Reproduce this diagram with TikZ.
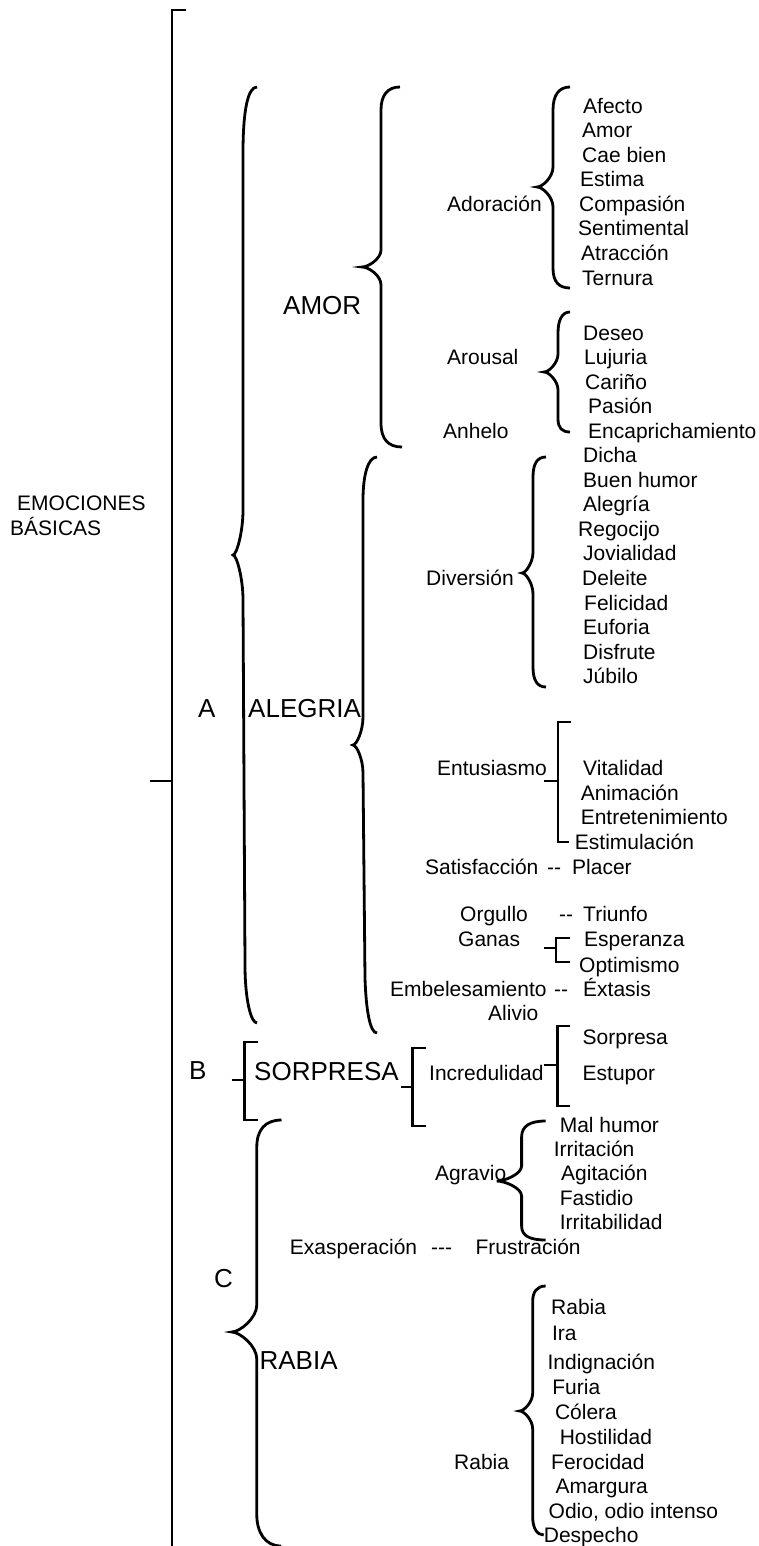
\documentclass[tikz,border=0pt]{standalone}
\usepackage{fontspec}
\setmainfont{Liberation Sans}
\newcommand\hy{\mbox{-}}
\begin{document}
\begin{tikzpicture}[x=1pt,y=-1pt,
  br/.style={line width=2.8pt, line cap=butt, line join=miter},
  sm/.style={anchor=base west, inner sep=0pt, font=\fontsize{21}{25}\selectfont},
  bg/.style={anchor=base west, inner sep=0pt, font=\fontsize{26}{30}\selectfont}]
\useasboundingbox (0,0) rectangle (759,1546);

% ---------- main bracket ----------
\draw[br] (186,10) -- (172,10) -- (172,1546);
\draw[br] (150,781) -- (172,781);
\node[sm] (emo1) at (17,510.5) {EMOCIONES};
\node[sm] (emo2) at (10,535.5) {BÁSICAS};

% ---------- big labels ----------
\node[bg] (labA) at (198,717.3) {A};
\node[bg] (alegria) at (248,717.3) {ALEGRIA};
\node[bg] (amor) at (283,314.3) {AMOR};
\node[bg] (labB) at (189,1079.3) {B};
\node[bg] (sorpresa) at (254,1080.3) {SORPRESA};
\node[bg] (labC) at (214,1287.3) {C};
\node[bg] (rabia) at (259.4,1369.3) {RABIA};

% ---------- braces ----------
% A
\draw[br] (257,87) .. controls (247.9,87) and (243,110) .. (243,153) -- (243,510)
  .. controls (243,532.5) and (236.5,555) .. (233,555)
  .. controls (236.5,555) and (243,577.5) .. (243,600) -- (245,965)
  .. controls (245,1000) and (251,1023) .. (257,1023);
% AMOR
\draw[br] (400,87) .. controls (387.7,87) and (381,95) .. (381,110) -- (381,250)
  .. controls (381,258.5) and (368.7,267) .. (362,267)
  .. controls (368.7,267) and (381,275.5) .. (381,285) -- (381,423)
  .. controls (381,439) and (388,447) .. (402,447);
% Adoracion
\draw[br] (570,87) .. controls (559,87) and (553,95) .. (553,110) -- (553,167)
  .. controls (553,177) and (542.6,187) .. (537,187)
  .. controls (542.6,187) and (553,197) .. (553,207) -- (553,268)
  .. controls (553,282) and (559,288) .. (570,288);
% Arousal
\draw[br] (570,312) .. controls (562,312) and (558,320) .. (558,333) -- (558,354)
  .. controls (558,363) and (548.9,372) .. (544,372)
  .. controls (548.9,372) and (558,381) .. (558,390) -- (558,419)
  .. controls (558,428) and (562,432) .. (570,432);
% ALEGRIA
\draw[br] (377,457) .. controls (368,457) and (363,475) .. (363,500) -- (363,717)
  .. controls (363,731) and (356.5,745) .. (353,745)
  .. controls (356.5,745) and (363,759) .. (363,773) -- (365,978)
  .. controls (366,1010) and (370,1033) .. (377,1033);
% Diversion
\draw[br] (546,457) .. controls (537,457) and (533,464) .. (533,477) -- (533,552)
  .. controls (533,562.5) and (525.8,573) .. (522,573)
  .. controls (525.8,573) and (533,583.5) .. (533,594) -- (533,667)
  .. controls (533,680) and (537,687) .. (546,687);
% Agravio
\draw[br] (545.6,1121) .. controls (530,1121) and (521.6,1126) .. (521.6,1137) -- (521.6,1166)
  .. controls (521.6,1174) and (505,1181) .. (496.8,1181)
  .. controls (505,1181) and (521.6,1188) .. (521.6,1196) -- (521.6,1226)
  .. controls (521.6,1236) and (530,1240) .. (545.6,1240);
% C / RABIA
\draw[br] (281.5,1120) .. controls (265,1120) and (256.8,1130) .. (256.8,1147) -- (256.8,1305)
  .. controls (256.8,1318) and (240,1332) .. (231.7,1332)
  .. controls (240,1332) and (256.8,1346) .. (256.8,1359) -- (256.8,1515)
  .. controls (256.8,1532) and (265,1546) .. (281,1546);
% Rabia
\draw[br] (545.6,1286) .. controls (537,1286) and (532.7,1292) .. (532.7,1301) -- (532.7,1393)
  .. controls (532.7,1402) and (524,1411) .. (519.7,1411)
  .. controls (524,1411) and (532.7,1420) .. (532.7,1429) -- (532.7,1517)
  .. controls (532.7,1528) and (537,1535) .. (543.7,1535);

% ---------- square brackets ----------
\draw[br] (570.5,722) -- (558,722) -- (558,842) -- (569,842);
\draw[br] (544,781) -- (558,781);
\draw[br] (570,938) -- (556,938) -- (556,962) -- (570,962);
\draw[br] (544,948) -- (556,948);
\draw[br] (257.5,1042) -- (244.6,1042) -- (244.6,1120) -- (257.5,1120);
\draw[br] (231.7,1080) -- (244.6,1080);
\draw[br] (425.6,1048) -- (412.6,1048) -- (412.6,1126) -- (425.6,1126);
\draw[br] (400.5,1087) -- (412.6,1087);
\draw[br] (569.6,1026) -- (557.4,1026) -- (557.4,1106) -- (569.6,1106);
\draw[br] (543.7,1065) -- (557.4,1065);

% ---------- mid labels ----------
\node[sm] (adoracion) at (447,211.5) {Adoración};
\node[sm] (arousal) at (447,364.5) {Arousal};
\node[sm] (anhelo) at (443,438.5) {Anhelo};
\node[sm] (diversion) at (426,585.5) {Diversión};
\node[sm] (entusiasmo) at (437,775.5) {Entusiasmo};
\node[sm] (satisf) at (425,874.5) {Satisfacción};
\node[sm] (d1) at (547,874.5) {\hy\hy};
\node[sm] (placer) at (572,874.5) {Placer};
\node[sm] (orgullo) at (460,921.5) {Orgullo};
\node[sm] (d2) at (559,921.5) {\hy\hy};
\node[sm] (triunfo) at (583,921.5) {Triunfo};
\node[sm] (ganas) at (458,946.5) {Ganas};
\node[sm] (esperanza) at (584,946.5) {Esperanza};
\node[sm] (optimismo) at (579,972.5) {Optimismo};
\node[sm] (embel) at (390,996.5) {Embelesamiento};
\node[sm] (d3) at (554,996.5) {\hy\hy};
\node[sm] (extasis) at (583,996.5) {Éxtasis};
\node[sm] (alivio) at (488,1020.5) {Alivio};
\node[sm] (incred) at (429,1080.5) {Incredulidad};
\node[sm] (sorp2) at (582.5,1044.5) {Sorpresa};
\node[sm] (estupor) at (582.5,1080.5) {Estupor};
\node[sm] (agravio) at (434.8,1180.5) {Agravio};
\node[sm] (exasp) at (289.7,1254.5) {Exasperación};
\node[sm] (d4) at (431,1254.5) {\hy\hy\hy};
\node[sm] (frustr) at (475.4,1254.5) {Frustración};
\node[sm] (rabia2) at (454,1469.5) {Rabia};

% ---------- leaf lists ----------
\foreach \x/\y/\t [count=\i] in {583/106/Afecto, 582/130/Amor, 582/155/Cae bien,
  580/179/Estima, 579/204/Compasión, 578/228/Sentimental, 581/253/Atracción, 582/278/Ternura}
  \node[sm] (ado\i) at (\x,\y+7.5) {\t};
\foreach \x/\y/\t [count=\i] in {583/333/Deseo, 584/357/Lujuria, 585/382/Cariño,
  588/406/Pasión, 588/431/Encaprichamiento}
  \node[sm] (aro\i) at (\x,\y+7.5) {\t};
\foreach \x/\y/\t [count=\i] in {583/455/Dicha, 583/480/Buen humor, 583/504/Alegría,
  578/529/Regocijo, 583/553/Jovialidad, 582/578/Deleite, 584/603/Felicidad,
  583/627/Euforia, 583/652/Disfrute, 583/676/Júbilo}
  \node[sm] (div\i) at (\x,\y+7.5) {\t};
\foreach \x/\y/\t [count=\i] in {583/768/Vitalidad, 580.6/793/Animación,
  580.6/817/Entretenimiento, 574.7/842/Estimulación}
  \node[sm] (ent\i) at (\x,\y+7.5) {\t};
\foreach \x/\y/\t [count=\i] in {559.6/1125/Mal humor, 553.7/1149/Irritación,
  561/1173/Agitación, 559.6/1198/Fastidio, 559.6/1222/Irritabilidad}
  \node[sm] (agr\i) at (\x,\y+7.5) {\t};
\foreach \x/\y/\t [count=\i] in {551/1307/Rabia, 551.9/1333/Ira, 547.4/1362/Indignación,
  552.2/1387/Furia, 554.8/1412/Cólera, 559.6/1437/Hostilidad, 551/1462/Ferocidad,
  555.5/1486/Amargura, 548.5/1511/{Odio, odio intenso}, 543.7/1535/Despecho}
  \node[sm] (rab\i) at (\x,\y+7.5) {\t};
\end{tikzpicture}
\end{document}
